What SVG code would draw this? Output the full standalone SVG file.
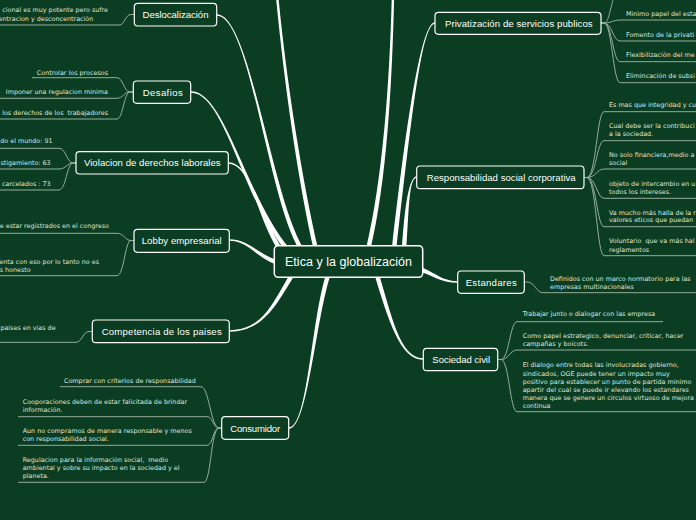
<svg xmlns="http://www.w3.org/2000/svg" width="696" height="520" viewBox="0 0 696 520">
<style>
.bg{fill:#0a3d21}
.main{fill:#ffffff}
.sub{fill:none;stroke:#97ad9c;stroke-width:1}
.box{fill:#0a3d21;stroke:#ffffff;stroke-width:1.2}
.cbox{fill:#0a3d21;stroke:#ffffff;stroke-width:1.5}
.tt{font-family:"Liberation Sans",Arial,sans-serif;font-size:9.6px;fill:#ffffff;text-anchor:middle}
.ct{font-family:"Liberation Sans",Arial,sans-serif;font-size:12.5px;fill:#ffffff;text-anchor:middle}
.st{font-family:"DejaVu Sans",Verdana,sans-serif;font-size:6.4px;fill:#dfe7df}
.e{text-anchor:end}
</style>
<rect class="bg" x="0" y="0" width="696" height="520"/>
<g id="connectors">
<path class="main" d="M217,15.7 C250,15.7 268.15,201.19 300.15,251.19 L303.85,248.81 C271.85,198.81 250,14.3 217,14.3 Z"/>
<path class="main" d="M191,92.7 C225,92.7 243.33,201.43 286.33,251.43 L289.67,248.57 C246.67,198.57 225,91.3 191,91.3 Z"/>
<path class="main" d="M228,163.7 C252,163.7 256.2,219.27 280.2,253.27 L283.8,250.73 C259.8,216.73 252,162.3 228,162.3 Z"/>
<path class="main" d="M229,240.7 C250,240.7 257.51,260.15 279.51,265.15 L280.49,260.85 C258.49,255.85 250,239.3 229,239.3 Z"/>
<path class="main" d="M229,331.7 C265,331.7 277.85,301.19 295.85,273.19 L292.15,270.81 C274.15,298.81 265,330.3 229,330.3 Z"/>
<path class="main" d="M289,428.7 C308,428.7 315.09,320.7 331.09,272.7 L326.91,271.3 C310.91,319.3 308,427.3 289,427.3 Z"/>
<path class="main" d="M423,358.3 C400,358.3 392.1,317.36 378.1,271.36 L373.9,272.64 C387.9,318.64 400,359.7 423,359.7 Z"/>
<path class="main" d="M458,281.3 C440,281.3 432.46,269.85 418.46,266.85 L417.54,271.15 C431.54,274.15 440,282.7 458,282.7 Z"/>
<path class="main" d="M417,176.3 C409,176.3 404.8,204.85 401.8,249.85 L406.2,250.15 C409.2,205.15 409,177.7 417,177.7 Z"/>
<path class="main" d="M435,22.3 C422,22.3 407.82,109.75 391.82,249.75 L396.18,250.25 C412.18,110.25 422,23.7 435,23.7 Z"/>
<path class="main" d="M275.8,-4.89 C283.8,80.11 297.85,180.49 313.85,250.49 L318.15,249.51 C302.15,179.51 286.2,79.89 278.2,-5.11 Z"/>
<path class="main" d="M391.8,-5.03 C389.8,79.97 382.86,179.48 365.86,249.48 L370.14,250.52 C387.14,180.52 392.2,80.03 394.2,-4.97 Z"/>

<path class="sub" d="M134,14.5 L131,14.5 C125,14.5 125,25 119,25 L-2,25"/>
<path class="sub" d="M133,92 L130,92 C124,92 123,77.7 117,77.7 L32,77.7"/>
<path class="sub" d="M133,92 L130,92 C124,92 123,98.3 117,98.3 L-2,98.3"/>
<path class="sub" d="M133,92 L130,92 C124,92 123,119 117,119 L-2,119"/>
<path class="sub" d="M76,163 L73,163 C67,163 66,148.3 59,148.3 L-2,148.3"/>
<path class="sub" d="M76,163 L73,163 C67,163 66,169 59,169 L-2,169"/>
<path class="sub" d="M76,163 L73,163 C67,163 66,190 59,190 L-2,190"/>
<path class="sub" d="M134,240.5 L131,240.5 C125,240.5 124,233.3 117,233.3 L-2,233.3"/>
<path class="sub" d="M134,240.5 L131,240.5 C125,240.5 124,275.7 117,275.7 L-2,275.7"/>
<path class="sub" d="M92,331.5 L89,331.5 C83,331.5 82,342.3 76,342.3 L-2,342.3"/>
<path class="sub" d="M222,428 L219,428 C211,428 209,386.7 201,386.7 L60,386.7"/>
<path class="sub" d="M222,428 L219,428 C213,428 213,416.7 207,416.7 L18,416.7"/>
<path class="sub" d="M222,428 L219,428 C213,428 213,445.3 207,445.3 L18,445.3"/>
<path class="sub" d="M222,428 L219,428 C211,428 211,482.3 204,482.3 L18,482.3"/>

<path class="sub" d="M601,23 L604,23 C609,23 610,8 614,-3"/>
<path class="sub" d="M601,23 L604,23 C612,23 613,20 620,20 L700,20"/>
<path class="sub" d="M601,23 L604,23 C612,23 613,41 620,41 L700,41"/>
<path class="sub" d="M601,23 L604,23 C612,23 613,61.7 620,61.7 L700,61.7"/>
<path class="sub" d="M601,23 L604,23 C612,23 613,82.7 620,82.7 L700,82.7"/>
<path class="sub" d="M584,177.5 L587,177.5 C596,177.5 597,111.7 604,111.7 L700,111.7"/>
<path class="sub" d="M584,177.5 L587,177.5 C596,177.5 597,140.7 604,140.7 L700,140.7"/>
<path class="sub" d="M584,177.5 L587,177.5 C596,177.5 597,169 604,169 L700,169"/>
<path class="sub" d="M584,177.5 L587,177.5 C596,177.5 597,198.3 604,198.3 L700,198.3"/>
<path class="sub" d="M584,177.5 L587,177.5 C596,177.5 597,226.7 604,226.7 L700,226.7"/>
<path class="sub" d="M584,177.5 L587,177.5 C596,177.5 597,255.7 604,255.7 L700,255.7"/>
<path class="sub" d="M524,282 L527,282 C535,282 536,292.7 543,292.7 L700,292.7"/>
<path class="sub" d="M498,359.5 L501,359.5 C509,359.5 510,321.7 517,321.7 L663,321.7"/>
<path class="sub" d="M498,359.5 L501,359.5 C509,359.5 510,350 517,350 L700,350"/>
<path class="sub" d="M498,359.5 L501,359.5 C509,359.5 510,411.7 517,411.7 L700,411.7"/>
</g>

<g id="center">
<rect class="cbox" x="274.3" y="245.7" width="148.4" height="31.6" rx="4"/>
<text class="ct" x="348.5" y="266" textLength="127">Etica y la globalización</text>
</g>
<g id="n-deslocalizacion">
<rect class="box" x="134.3" y="3.3" width="82.4" height="22.7" rx="3.5"/>
<text class="tt" x="175.5" y="18" textLength="66">Deslocalización</text>
</g>
<g id="n-desafios">
<rect class="box" x="133.3" y="81" width="57.4" height="22.3" rx="3.5"/>
<text class="tt" x="162.7" y="95.6" textLength="40">Desafios</text>
</g>
<g id="n-violacion">
<rect class="box" x="76" y="151.7" width="152.3" height="22.3" rx="3.5"/>
<text class="tt" x="152.3" y="166.3" textLength="136.7">Violacion de derechos laborales</text>
</g>
<g id="n-lobby">
<rect class="box" x="134" y="229.3" width="95.3" height="23" rx="3.5"/>
<text class="tt" x="181.7" y="244.2" textLength="80">Lobby empresarial</text>
</g>
<g id="n-competencia">
<rect class="box" x="92.3" y="320" width="137" height="22.7" rx="3.5"/>
<text class="tt" x="161.7" y="334.8" textLength="120">Competencia de los paises</text>
</g>
<g id="n-consumidor">
<rect class="box" x="221.7" y="416.7" width="67" height="22.6" rx="3.5"/>
<text class="tt" x="255.2" y="431.5" textLength="50">Consumidor</text>
</g>
<g id="n-privatizacion">
<rect class="box" x="435" y="12.3" width="166" height="22" rx="3.5"/>
<text class="tt" x="518.8" y="26.8" textLength="147.7">Privatización de servicios publicos</text>
</g>
<g id="n-responsabilidad">
<rect class="box" x="416.7" y="166" width="167.3" height="22.7" rx="3.5"/>
<text class="tt" x="501.2" y="180.8" textLength="149">Responsabilidad social corporativa</text>
</g>
<g id="n-estandares">
<rect class="box" x="457.7" y="271" width="66.6" height="22.3" rx="3.5"/>
<text class="tt" x="491.2" y="285.6" textLength="51">Estandares</text>
</g>
<g id="n-sociedad">
<rect class="box" x="423.3" y="348.3" width="74.4" height="22.4" rx="3.5"/>
<text class="tt" x="461.2" y="363" textLength="57.7">Sociedad civil</text>
</g>

<g id="s-deslocalizacion">
<text class="st e" x="108" y="12.2">cional es muy potente pero sufre</text>
<text class="st e" x="93.3" y="20.5">entracion y desconcentración</text>
</g>
<g id="s-desafios">
<text class="st e" x="108" y="74.9">Controlar los procesos</text>
<text class="st e" x="108" y="93.5">Imponer una regulacion minima</text>
<text class="st e" x="108" y="114.5" xml:space="preserve">los derechos de los  trabajadores</text>
</g>
<g id="s-violacion">
<text class="st e" x="52.6" y="143.2">do el mundo: 91</text>
<text class="st e" x="50.7" y="164.9">stigamiento: 63</text>
<text class="st e" x="50.7" y="185.5">carcelados : 73</text>
</g>
<g id="s-lobby">
<text class="st e" x="109" y="228.2">e estar registrados en el congreso</text>
<text class="st e" x="99" y="263.9">enta con eso por lo tanto no es</text>
<text class="st e" x="30.7" y="272.2">s honesto</text>
</g>
<g id="s-competencia">
<text class="st e" x="55.6" y="329.7">paises en vias de</text>
</g>
<g id="s-consumidor">
<text class="st" x="64" y="382.9">Comprar con criterios de responsabilidad</text>
<text class="st" x="22.7" y="403.9">Cooporaciones deben de estar falicitada de brindar</text>
<text class="st" x="22.7" y="412.2">información.</text>
<text class="st" x="22.7" y="433.2">Aun no compramos de manera responsable y menos</text>
<text class="st" x="22.7" y="441.2">con responsabilidad social.</text>
<text class="st" x="22.7" y="461.5" xml:space="preserve">Regulacion para la información social,  medio</text>
<text class="st" x="22.7" y="469.5">ambiental y sobre su impacto en la sociedad y el</text>
<text class="st" x="22.7" y="478.2">planeta.</text>
</g>
<g id="s-privatizacion">
<text class="st" x="626" y="16.2">Minimo papel del esta</text>
<text class="st" x="626" y="36.5">Fomento de la privati</text>
<text class="st" x="626" y="57.2">Flexibilización del me</text>
<text class="st" x="626" y="78.2">Elimincación de subsi</text>
</g>
<g id="s-responsabilidad">
<text class="st" x="609" y="107.2">Es mas que integridad y cu</text>
<text class="st" x="609" y="127.9">Cual debe ser la contribuci</text>
<text class="st" x="609" y="135.5">a la sociedad.</text>
<text class="st" x="609" y="157.2">No solo financiera,medio a</text>
<text class="st" x="609" y="164.9">social</text>
<text class="st" x="609" y="186.2">objeto de intercambio en u</text>
<text class="st" x="609" y="193.9">todos los intereses.</text>
<text class="st" x="609" y="214.5">Va mucho más halla de la r</text>
<text class="st" x="609" y="222.2">valores eticos que puedan</text>
<text class="st" x="609" y="243.2" xml:space="preserve">Voluntario  que va más hal</text>
<text class="st" x="609" y="251.5">reglamentos</text>
</g>
<g id="s-estandares">
<text class="st" x="550" y="280.5">Definidos con un marco normatorio para las</text>
<text class="st" x="550" y="288.9">empresas multinacionales</text>
</g>
<g id="s-sociedad">
<text class="st" x="522.7" y="316.2">Trabajar junto o dialogar con las empresa</text>
<text class="st" x="522.7" y="337.9">Como papel estrategico, denunciar, criticar, hacer</text>
<text class="st" x="522.7" y="345.5">campañas y boicots.</text>
<text class="st" x="522.7" y="367.2">El dialogo entre todas las involucradas gobierno,</text>
<text class="st" x="522.7" y="375.5">sindicados, OGE puede tener un impacto muy</text>
<text class="st" x="522.7" y="383.5">positivo para establecer un punto de partida minimo</text>
<text class="st" x="522.7" y="391.9">apartir del cual se puede ir elevando los estandares</text>
<text class="st" x="522.7" y="399.9">manera que se genere un circulos virtuoso de mejora</text>
<text class="st" x="522.7" y="407.9">continua</text>
</g>
</svg>
